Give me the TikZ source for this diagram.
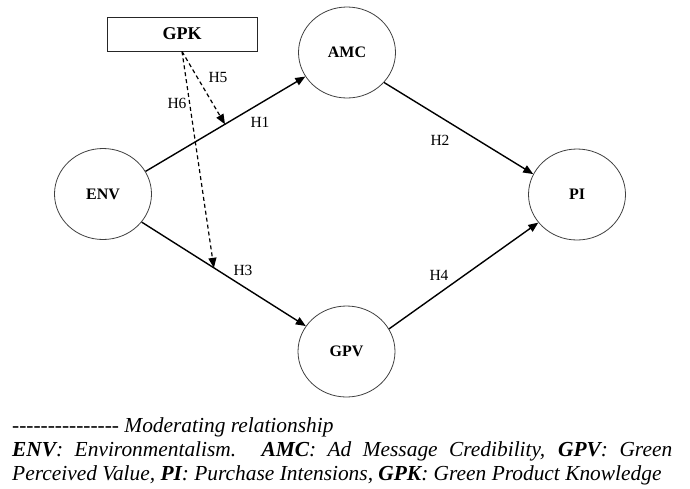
\documentclass[tikz,border=0pt]{standalone}
\usepackage{fontspec}
\setmainfont{Liberation Serif}[Ligatures=TeXOff]
\usetikzlibrary{shapes.geometric,arrows.meta}
\begin{document}
\begin{tikzpicture}[x=1pt,y=-1pt,
  latent/.style={ellipse,draw=black!75,line width=0.8pt,minimum width=97pt,
    minimum height=91pt,inner sep=0pt,font=\fontsize{16}{18}\selectfont\bfseries},
  modbox/.style={rectangle,draw=black!85,line width=0.9pt,minimum width=150pt,
    minimum height=34pt,inner sep=0pt,font=\fontsize{18}{20}\selectfont\bfseries},
  conn/.style={line width=1.4pt,-{Triangle[length=10pt,width=8pt]}},
  modr/.style={line width=1.2pt,dash pattern=on 4pt off 3pt,
    -{Triangle[length=10pt,width=8pt]}},
  hyp/.style={inner sep=0pt,font=\fontsize{15.5}{17}\selectfont}
]
\useasboundingbox (0,0) rectangle (690,488);

% constructs
\node[latent] (ENV) at (103,194) {ENV};
\node[latent] (AMC) at (347,52.5) {AMC};
\node[latent] (GPV) at (346.5,351.5) {GPV};
\node[latent] (PI)  at (577,194.5) {PI};
\node[modbox] (GPK) at (182,34) {GPK};

% direct paths
\draw[conn] (ENV.28) -- node[coordinate,pos=0.497] (m1) {} (AMC.-150);
\draw[conn] (ENV.-36) -- node[coordinate,pos=0.44] (m3) {} (GPV.148);
\draw[conn] (AMC.-39.5) -- (PI.155);
\draw[conn] (GPV.28.4) -- (PI.-144);

% moderating paths
\draw[modr] (GPK.south) -- (m1);
\draw[modr] (GPK.south) -- (m3);

% hypothesis labels
\node[hyp] (h1) at (260,122) {H1};
\node[hyp] (h2) at (440,140) {H2};
\node[hyp] (h3) at (243,270) {H3};
\node[hyp] (h4) at (439,275) {H4};
\node[hyp] (h5) at (218,77) {H5};
\node[hyp] (h6) at (177,103) {H6};

% legend
\node[anchor=base west,inner sep=0pt] (legend) at (12,432) {\parbox[t]{660pt}{%
  \fontsize{21.4}{24}\selectfont\itshape
  --------------- Moderating relationship\\
  \textbf{ENV}: Environmentalism. \textbf{AMC}: Ad Message Credibility,
  \textbf{GPV}: Green\linebreak
  Perceived Value, \textbf{PI}: Purchase Intensions, \textbf{GPK}: Green
  Product Knowledge}};
\end{tikzpicture}
\end{document}
